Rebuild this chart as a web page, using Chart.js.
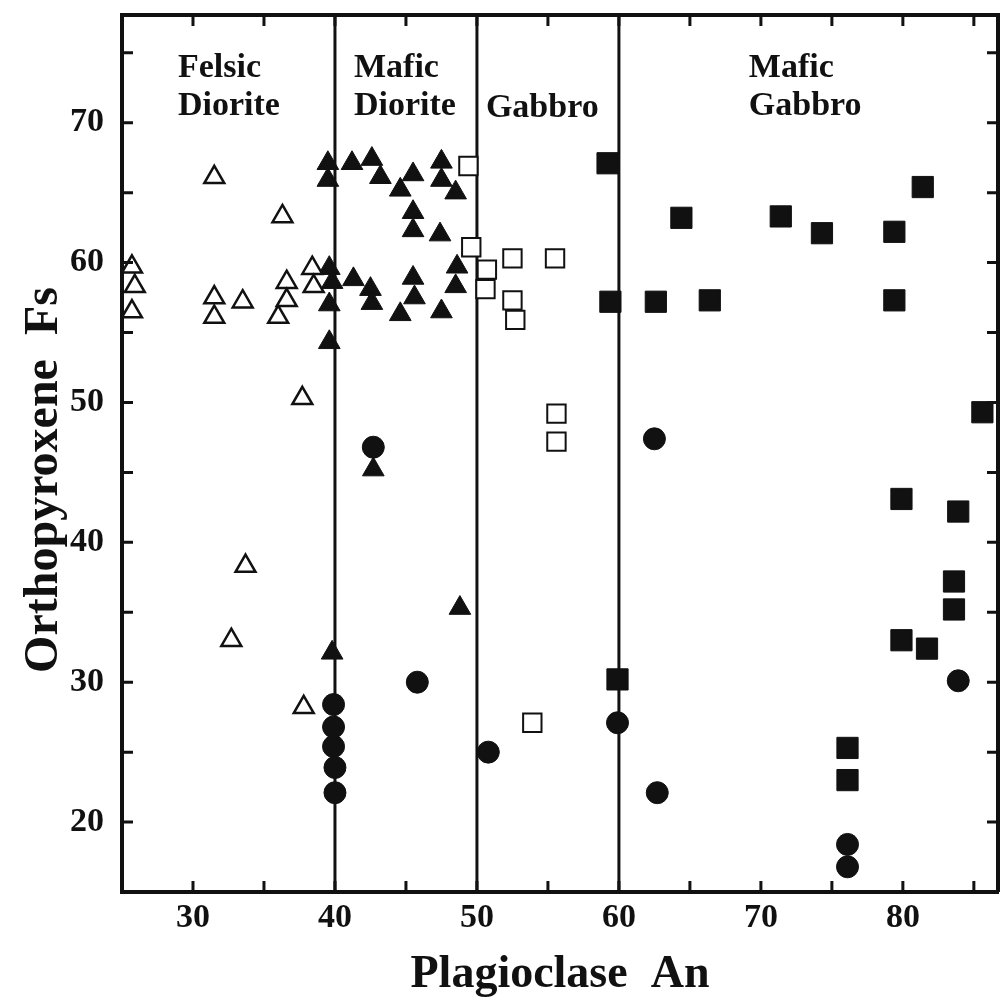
<!DOCTYPE html>
<html><head><meta charset="utf-8">
<script src="https://cdn.jsdelivr.net/npm/chart.js@4.4.0/dist/chart.umd.min.js"></script>
<style>html,body{margin:0;padding:0;background:#fff}#wrap{width:1008px;height:1001px;position:relative}</style>
</head><body><div id="wrap"><canvas id="c"></canvas></div>
<script>
// ---- data ----
const felsicX = [31.5, 36.3, 25.7, 25.9, 25.7, 31.5, 31.5, 33.5, 36.6, 36.6, 36.0, 38.4, 38.5, 37.7, 33.7, 32.7, 37.8];
const felsicY = [66.1, 63.3, 59.7, 58.3, 56.5, 57.5, 56.1, 57.2, 58.6, 57.3, 56.1, 59.6, 58.3, 50.3, 38.3, 33.0, 28.2];
const maficDioriteX = [39.5, 39.5, 41.2, 42.6, 43.2, 44.6, 45.5, 47.5, 47.5, 48.5, 45.5, 45.5, 47.4, 39.6, 39.8, 39.6, 41.3, 42.5, 42.6, 44.6, 45.5, 45.6, 47.5, 48.6, 48.5, 39.6, 42.7, 48.8, 39.8];
const maficDioriteY = [67.1, 65.9, 67.1, 67.4, 66.1, 65.2, 66.3, 67.2, 65.9, 65.0, 63.6, 62.3, 62.0, 59.6, 58.6, 57.0, 58.8, 58.1, 57.1, 56.3, 58.9, 57.5, 56.5, 59.7, 58.3, 54.3, 45.2, 35.3, 32.1];
const circleX = [42.7, 45.8, 39.9, 39.9, 39.9, 40.0, 40.0, 50.8, 62.5, 59.9, 62.7, 76.1, 76.1, 83.9];
const circleY = [46.8, 30.0, 28.4, 26.8, 25.4, 23.9, 22.1, 25.0, 47.4, 27.1, 22.1, 18.4, 16.8, 30.1];
const gabbroX = [49.4, 49.6, 50.7, 50.6, 52.5, 55.5, 52.5, 52.7, 55.6, 55.6, 53.9];
const gabbroY = [66.9, 61.1, 59.5, 58.1, 60.3, 60.3, 57.3, 55.9, 49.2, 47.2, 27.1];
const maficGabbroX = [59.2, 64.4, 71.4, 74.3, 79.4, 81.4, 59.4, 62.6, 66.4, 79.4, 85.6, 79.9, 83.9, 83.6, 83.6, 79.9, 81.7, 59.9, 76.1, 76.1];
const maficGabbroY = [67.1, 63.2, 63.3, 62.1, 62.2, 65.4, 57.2, 57.2, 57.3, 57.3, 49.3, 43.1, 42.2, 37.2, 35.2, 33.0, 32.4, 30.2, 25.3, 23.0];
const dividers = [40, 50, 60];
const xTickLabels = [30, 40, 50, 60, 70, 80];
const yTickLabels = [20, 30, 40, 50, 60, 70];
const regionNames = [["Felsic", "Diorite"], ["Mafic", "Diorite"], ["Gabbro"], ["Mafic", "Gabbro"]];
const xTitle = "Plagioclase  An";
const yTitle = "Orthopyroxene  Fs";

// ---- layout / style ----
const X_MIN = 25, X_MAX = 86.7, Y_MIN = 15, Y_MAX = 77.7;
const regionAnchors = [[28.94, 73.29], [41.34, 73.29], [50.63, 70.43], [69.15, 73.29]];
const INK = '#111';
const SERIF = "'Liberation Serif', 'Times New Roman', serif";

const pts = (xs, ys) => xs.map((x, i) => ({x, y: ys[i]}));

const datasets = [];
dividers.forEach(d => datasets.push({
  type: 'line', data: [{x: d, y: Y_MIN}, {x: d, y: Y_MAX}],
  borderColor: INK, borderWidth: 3, pointRadius: 0, order: 10, clip: false
}));
datasets.push({label: 'Felsic Diorite', data: pts(felsicX, felsicY), pointStyle: 'triangle', pointRadius: 11.5,
  backgroundColor: '#fff', borderColor: INK, borderWidth: 2.5, order: 1, clip: false});
datasets.push({label: 'Mafic Diorite', data: pts(maficDioriteX, maficDioriteY), pointStyle: 'triangle', pointRadius: 12.5,
  backgroundColor: INK, borderColor: INK, borderWidth: 1, order: 1, clip: false});
datasets.push({label: 'Gabbro', data: pts(gabbroX, gabbroY), pointStyle: 'rect', pointRadius: 13,
  backgroundColor: '#fff', borderColor: INK, borderWidth: 2, order: 1, clip: false});
datasets.push({label: 'Mafic Gabbro', data: pts(maficGabbroX, maficGabbroY), pointStyle: 'rect', pointRadius: 15,
  backgroundColor: INK, borderColor: INK, borderWidth: 1, order: 1, clip: false});
datasets.push({label: 'Circles', data: pts(circleX, circleY), pointStyle: 'circle', pointRadius: 11,
  backgroundColor: INK, borderColor: INK, borderWidth: 1, order: 1, clip: false});

const decor = {
  id: 'decor',
  afterDraw(chart) {
    const {ctx, chartArea: a, scales: {x, y}} = chart;
    ctx.save();
    ctx.strokeStyle = INK;
    // top and right frame
    ctx.lineWidth = 4;
    ctx.beginPath();
    ctx.moveTo(a.left, a.top); ctx.lineTo(a.right, a.top); ctx.lineTo(a.right, a.bottom);
    ctx.stroke();
    // inward ticks
    ctx.lineWidth = 3;
    const L = 11;
    x.ticks.forEach(t => {
      const px = x.getPixelForValue(t.value);
      if (px - a.left < 3 || a.right - px < 3) return;
      ctx.beginPath();
      ctx.moveTo(px, a.bottom); ctx.lineTo(px, a.bottom - L);
      ctx.moveTo(px, a.top); ctx.lineTo(px, a.top + L);
      ctx.stroke();
    });
    y.ticks.forEach(t => {
      const py = y.getPixelForValue(t.value);
      if (py - a.top < 3 || a.bottom - py < 3) return;
      ctx.beginPath();
      ctx.moveTo(a.left, py); ctx.lineTo(a.left + L, py);
      ctx.moveTo(a.right, py); ctx.lineTo(a.right - L, py);
      ctx.stroke();
    });
    // region labels
    ctx.fillStyle = INK;
    ctx.font = 'bold 34px ' + SERIF;
    ctx.textAlign = 'left';
    ctx.textBaseline = 'alphabetic';
    regionNames.forEach((lines, i) => {
      const px = x.getPixelForValue(regionAnchors[i][0]);
      const py = y.getPixelForValue(regionAnchors[i][1]);
      lines.forEach((s, j) => ctx.fillText(s, px, py + j * 38));
    });
    // y axis title
    ctx.font = 'bold 48px ' + SERIF;
    ctx.textAlign = 'center';
    ctx.textBaseline = 'middle';
    ctx.translate(45, 480);
    ctx.rotate(-Math.PI / 2);
    ctx.fillText(yTitle, 0, 0);
    ctx.restore();
  }
};

new Chart(document.getElementById('c'), {
  type: 'scatter',
  data: {datasets},
  options: {
    responsive: true, maintainAspectRatio: false, animation: false,
    layout: {autoPadding: false, padding: {top: 15, right: 10, left: 0, bottom: 0}},
    plugins: {legend: {display: false}, tooltip: {enabled: false}},
    scales: {
      x: {
        type: 'linear', position: 'bottom', min: X_MIN, max: X_MAX,
        afterFit: s => { s.height = 109; s.paddingLeft = 0; s.paddingRight = 0; },
        grid: {display: false, drawTicks: false},
        border: {display: true, width: 4, color: INK},
        ticks: {
          stepSize: 5, includeBounds: false, padding: 6, color: INK, maxRotation: 0, autoSkip: false,
          font: {family: SERIF, size: 34, weight: 'bold'},
          callback: v => xTickLabels.includes(v) ? String(v) : ''
        },
        title: {display: true, text: xTitle, color: INK, font: {family: SERIF, size: 46, weight: 'bold', lineHeight: 1}, padding: {top: 0, bottom: 3}}
      },
      y: {
        type: 'linear', position: 'left', min: Y_MIN, max: Y_MAX,
        afterFit: s => { s.width = 122; s.paddingTop = 0; s.paddingBottom = 0; },
        grid: {display: false, drawTicks: false},
        border: {display: true, width: 4, color: INK},
        ticks: {
          stepSize: 5, includeBounds: false, padding: 18, color: INK, autoSkip: false,
          font: {family: SERIF, size: 34, weight: 'bold'},
          callback: v => yTickLabels.includes(v) ? String(v) : ''
        }
      }
    }
  },
  plugins: [decor]
});
</script></body></html>
